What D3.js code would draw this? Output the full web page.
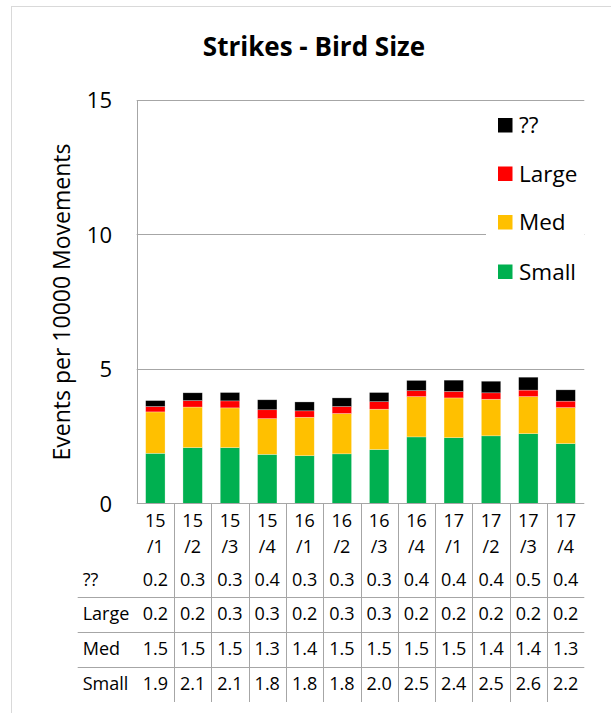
<!DOCTYPE html>
<html>
<head>
<meta charset="utf-8">
<script src="https://cdn.jsdelivr.net/npm/d3@7/dist/d3.min.js"></script>
<style>
  html, body { margin: 0; padding: 0; background: #fff; }
  svg { display: block; }
  text { font-family: "Open Sans", "DejaVu Sans", sans-serif; fill: #000; }
</style>
</head>
<body>
<script>
// ---- data ----
const categories = ["15/1","15/2","15/3","15/4","16/1","16/2","16/3","16/4","17/1","17/2","17/3","17/4"];
const seriesNames = ["Small","Med","Large","??"];           // stacking order, bottom to top
const seriesColors = ["#00B050","#FFC000","#FF0000","#000000"];
const small   = [1.86,2.07,2.07,1.82,1.77,1.84,2.00,2.47,2.44,2.51,2.59,2.22];
const med     = [1.54,1.51,1.48,1.33,1.43,1.50,1.50,1.50,1.48,1.36,1.38,1.34];
const large   = [0.20,0.24,0.26,0.33,0.24,0.26,0.28,0.22,0.24,0.24,0.24,0.24];
const unknown = [0.22,0.29,0.31,0.37,0.33,0.32,0.34,0.38,0.42,0.43,0.48,0.42];
const yTicks = [0,5,10,15];
const titleText = "Strikes - Bird Size";
const yTitle = "Events per 10000 Movements";

const seriesValues = [small, med, large, unknown];
const rows = categories.map((c, i) => {
  const r = { cat: c };
  seriesNames.forEach((s, j) => r[s] = seriesValues[j][i]);
  return r;
});

// ---- layout ----
const W = 611, H = 713;
const plotL = 136.7, plotR = 584.3, plotT = 100, plotB = 503.3;
const gridColor = "#a6a6a6";

const svg = d3.select("body").append("svg").attr("width", W).attr("height", H);

// outer chart frame
svg.append("rect").attr("x", 11.5).attr("y", 6.5).attr("width", 700).attr("height", 800)
  .attr("fill", "#fff").attr("stroke", "#d9d9d9").attr("stroke-width", 1);

const x = d3.scaleBand().domain(categories).range([plotL, plotR]).paddingInner(0.48).paddingOuter(0.24);
const xb = d3.scaleBand().domain(categories).range([plotL, plotR]).padding(0);
const y = d3.scaleLinear().domain([0, 15]).range([plotB, plotT]);

// title
svg.append("text").attr("x", 314).attr("y", 56).attr("text-anchor", "middle")
  .style("font-size", "26px").style("font-weight", "bold").text(titleText);

// gridlines
svg.append("g").selectAll("line").data(yTicks.filter(d => d > 0)).join("line")
  .attr("x1", plotL).attr("x2", plotR)
  .attr("y1", d => Math.round(y(d)) + 0.5).attr("y2", d => Math.round(y(d)) + 0.5)
  .attr("stroke", gridColor).attr("stroke-width", 1);

// y axis line
svg.append("line").attr("x1", Math.round(plotL) + 0.5).attr("x2", Math.round(plotL) + 0.5)
  .attr("y1", Math.round(plotT) + 0.5).attr("y2", Math.round(plotB) + 0.5)
  .attr("stroke", gridColor);

// y tick labels via axis
const yAxis = d3.axisLeft(y).tickValues(yTicks).tickSize(0).tickPadding(0).tickFormat(d3.format("d"));
const gy = svg.append("g").attr("transform", `translate(${112},0)`).call(yAxis);
gy.select(".domain").remove();
gy.selectAll("text").style("font-size", "22px").style("font-family", "'Open Sans', sans-serif")
  .attr("fill", "#000").attr("dy", "0.36em");

// y title
svg.append("text").attr("transform", `translate(69.5,302) rotate(-90)`).attr("text-anchor", "middle")
  .style("font-size", "23px").text(yTitle);

// stacked bars
const stack = d3.stack().keys(seriesNames);
const stacked = stack(rows);
svg.append("g").selectAll("g").data(stacked).join("g")
  .attr("fill", (d, i) => seriesColors[i])
  .selectAll("rect").data(d => d).join("rect")
  .attr("x", d => x(d.data.cat))
  .attr("width", x.bandwidth())
  .attr("y", d => y(d[1]))
  .attr("height", d => y(d[0]) - y(d[1]))
  .attr("stroke", "#ffffff").attr("stroke-opacity", 0.45).attr("stroke-width", 0.6);

// x axis line
svg.append("line").attr("x1", plotL).attr("x2", plotR)
  .attr("y1", Math.round(plotB) + 0.5).attr("y2", Math.round(plotB) + 0.5)
  .attr("stroke", gridColor);

// data table
const tableFont = "18px";
const tableRowsOrder = ["??","Large","Med","Small"];
const rowBaselines = [586, 620, 655, 690];
const rowLines = [597, 632, 667];
const tableBottom = 702;

// vertical separators
svg.append("g").selectAll("line").data(categories.slice(1)).join("line")
  .attr("x1", d => Math.round(xb(d)) + 0.5).attr("x2", d => Math.round(xb(d)) + 0.5)
  .attr("y1", Math.round(plotB) + 0.5).attr("y2", tableBottom)
  .attr("stroke", gridColor);

// horizontal row lines
svg.append("g").selectAll("line").data(rowLines).join("line")
  .attr("x1", 77.7).attr("x2", plotR)
  .attr("y1", d => d + 0.5).attr("y2", d => d + 0.5)
  .attr("stroke", gridColor);

// category labels (two lines)
const catG = svg.append("g").selectAll("g").data(categories).join("g")
  .attr("transform", d => `translate(${xb(d) + xb.bandwidth() / 2},0)`);
catG.append("text").attr("y", 527).attr("text-anchor", "middle").style("font-size", tableFont)
  .text(d => d.split("/")[0]);
catG.append("text").attr("y", 553).attr("text-anchor", "middle").style("font-size", tableFont)
  .text(d => "/" + d.split("/")[1]);

// row labels and values
const fmt = d3.format(".1f");
tableRowsOrder.forEach((name, ri) => {
  svg.append("text").attr("x", 82.7).attr("y", rowBaselines[ri]).style("font-size", tableFont).text(name);
  const vals = seriesValues[seriesNames.indexOf(name)];
  svg.append("g").selectAll("text").data(categories).join("text")
    .attr("x", d => xb(d) + xb.bandwidth() / 2).attr("y", rowBaselines[ri])
    .attr("text-anchor", "middle").style("font-size", tableFont)
    .text((d, i) => fmt(vals[i]));
});

// legend
const legendOrder = ["??","Large","Med","Small"];
const legendY = [125, 173.5, 222, 271.5];
svg.append("rect").attr("x", 486).attr("y", 105).attr("width", 98).attr("height", 185).attr("fill", "#fff");
const lg = svg.append("g").selectAll("g").data(legendOrder).join("g")
  .attr("transform", (d, i) => `translate(0,${legendY[i]})`);
lg.append("rect").attr("x", 498).attr("y", -7).attr("width", 14.5).attr("height", 14.5)
  .attr("fill", d => seriesColors[seriesNames.indexOf(d)]);
lg.append("text").attr("x", 519).attr("y", 0).attr("dy", "0.36em").style("font-size", "22.5px").text(d => d);
</script>
</body>
</html>
